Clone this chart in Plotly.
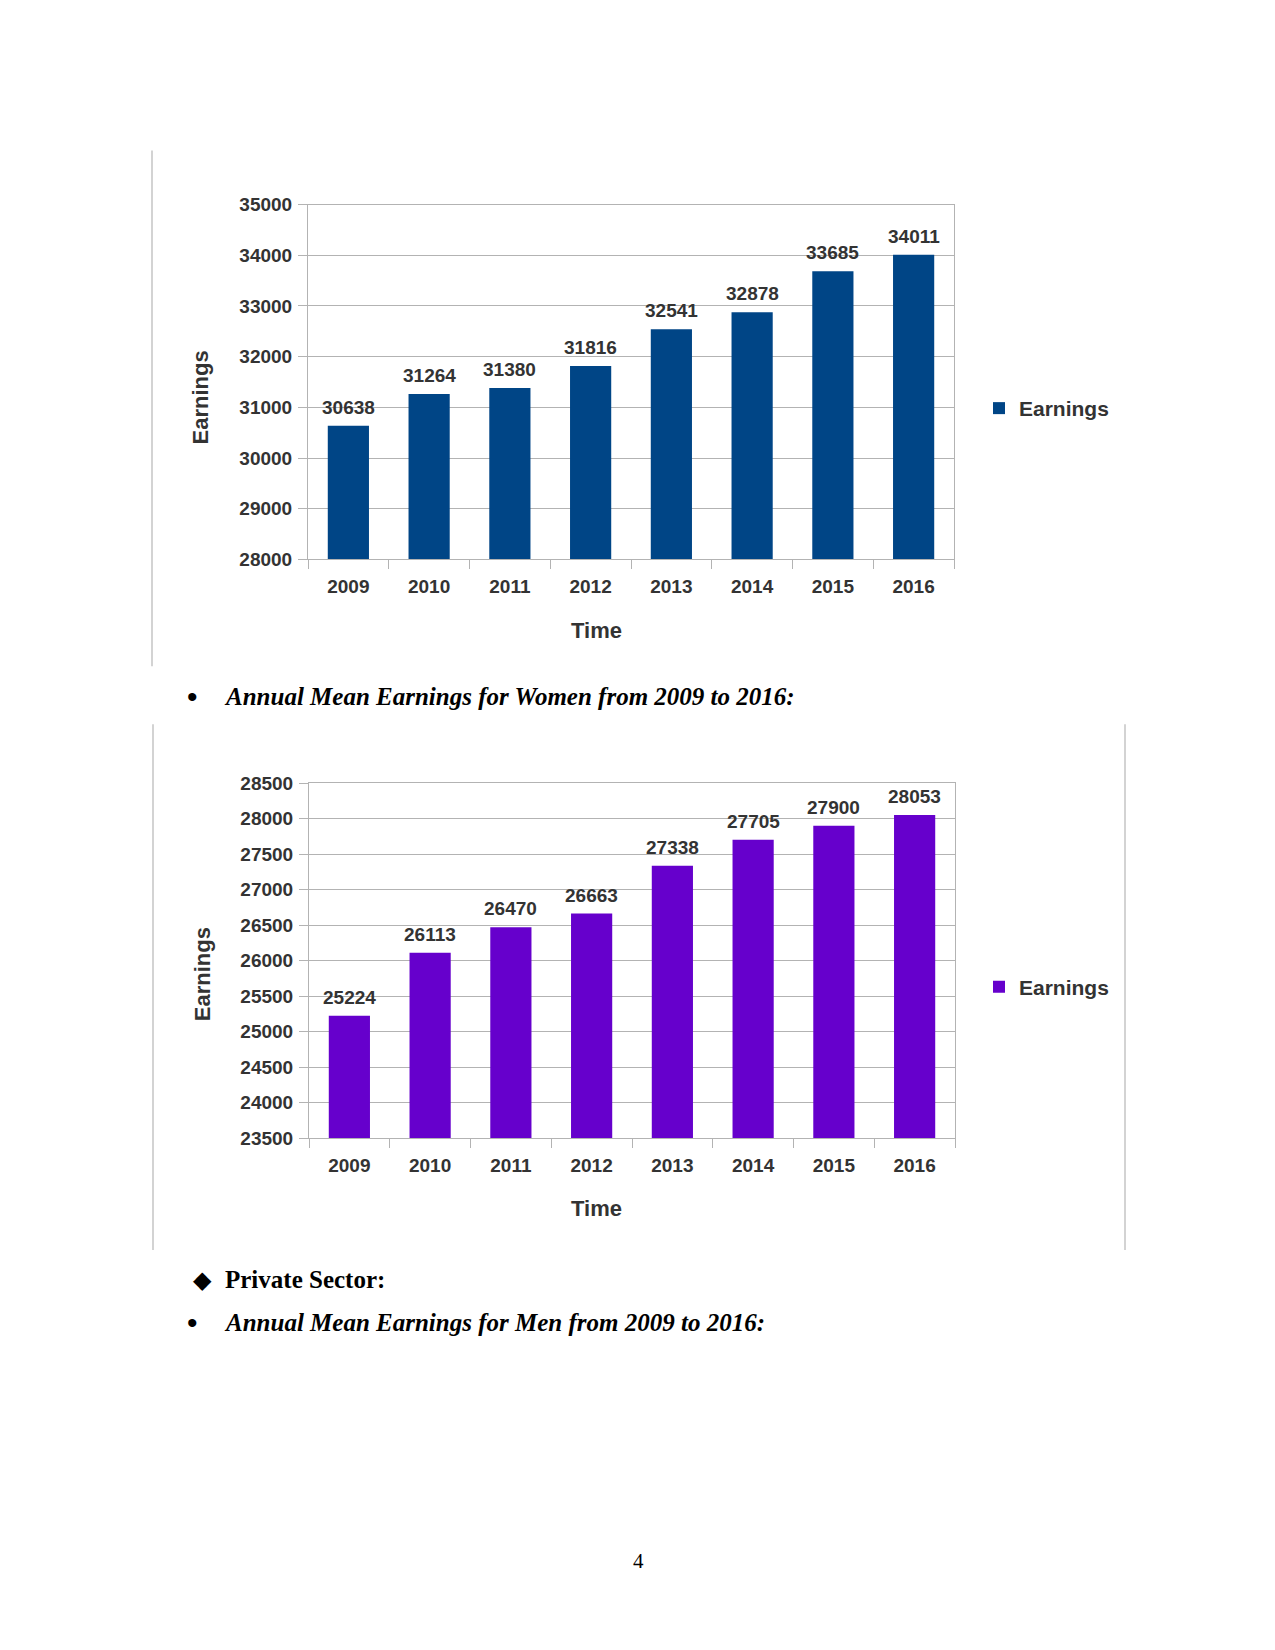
import plotly.graph_objects as go

# ---- data ----
years = ["2009", "2010", "2011", "2012", "2013", "2014", "2015", "2016"]
earnings_women = [30638, 31264, 31380, 31816, 32541, 32878, 33685, 34011]
earnings_men = [25224, 26113, 26470, 26663, 27338, 27705, 27900, 28053]
y1_range = [28000, 35000]
y1_step = 1000
y2_range = [23500, 28500]
y2_step = 500
series_name = "Earnings"
x_title = "Time"
y_title = "Earnings"
heading_1 = "Annual Mean Earnings for Women from 2009 to 2016:"
heading_2 = "Private Sector:"
heading_3 = "Annual Mean Earnings for Men from 2009 to 2016:"
page_number = "4"

# page -> figure coordinate helpers (page has an 8px body margin)
OX, OY = 8, 8
FW, FH = 1275 - 16, 1650 - 30
VY0, VYS = 9.4, 0.9876   # observed vertical mapping of the photographed page
def fx(x):
    return (x - OX) / FW
def fy(y):
    yp = (y - VY0) / VYS
    return 1 - (yp - OY) / FH

TXT = "#333333"
GRID = "#b3b3b3"
SANS = "Liberation Sans"
SERIF = "Liberation Serif"

fig = go.Figure()
fig.add_trace(go.Bar(
    x=years, y=earnings_women, name=series_name, xaxis="x", yaxis="y",
    marker=dict(color="#004586", line=dict(width=0)),
    legend="legend", hoverinfo="skip"))
fig.add_trace(go.Bar(
    x=years, y=earnings_men, name=series_name, xaxis="x2", yaxis="y2",
    marker=dict(color="#6600cc", line=dict(width=0)),
    legend="legend2", hoverinfo="skip"))

def xax(domain, anchor):
    return dict(domain=domain, anchor=anchor, type="category",
                categoryorder="array", categoryarray=years,
                range=[-0.5, len(years) - 0.5],
                showline=True, linecolor=GRID, linewidth=1, mirror=True,
                ticks="outside", tickson="boundaries", ticklen=9, tickcolor=GRID,
                tickfont=dict(family=SANS, size=19, color=TXT, weight="bold"),
                tickangle=0,
                ticklabelstandoff=10, showgrid=False, fixedrange=True)

def yax(domain, anchor, rng, step):
    return dict(domain=domain, anchor=anchor, range=rng, dtick=step, tick0=rng[0],
                tickformat="d",
                showline=True, linecolor=GRID, linewidth=1, mirror=True,
                ticks="outside", ticklen=9, tickcolor=GRID,
                showgrid=True, gridcolor=GRID, gridwidth=1, zeroline=False,
                tickfont=dict(family=SANS, size=19, color=TXT, weight="bold"),
                ticklabelstandoff=2, fixedrange=True)

label_font = dict(family=SANS, size=19, color=TXT, weight="bold")
annotations = []
# value labels above each bar, placed through the axes' data scales
# (category axes take the category's serial number as annotation x)
for xref, yref, vals in (("x", "y", earnings_women), ("x2", "y2", earnings_men)):
    for i, v in enumerate(vals):
        annotations.append(dict(x=i, y=v, xref=xref, yref=yref, text=str(v),
                                showarrow=False, xanchor="center", yanchor="bottom",
                                yshift=6, font=label_font))

titles = [
    dict(text=x_title, x=fx(596), y=fy(630)),
    dict(text=y_title, x=fx(200), y=fy(397), textangle=-90),
    dict(text=x_title, x=fx(596), y=fy(1208)),
    dict(text=y_title, x=fx(202), y=fy(974), textangle=-90),
]
for a in titles:
    a.update(xref="paper", yref="paper", showarrow=False, xanchor="center", yanchor="middle",
             font=dict(family=SANS, size=22, color=TXT, weight="bold"))

doc_font = dict(family=SERIF, size=25, color="#000000")
bullet_font = dict(family=SANS, size=30, color="#000000")
doc = [
    dict(text="•", x=fx(192), y=fy(696), xanchor="center", font=bullet_font),
    dict(text="<b><i>" + heading_1 + "</i></b>", x=fx(222), y=fy(696), xanchor="left", font=doc_font),
    dict(text="◆", x=fx(202), y=fy(1280), xanchor="center",
         font=dict(family="DejaVu Sans", size=24, color="#000000")),
    dict(text="<b>" + heading_2 + "</b>", x=fx(223), y=fy(1280), xanchor="left", font=doc_font),
    dict(text="•", x=fx(192), y=fy(1323), xanchor="center", font=bullet_font),
    dict(text="<b><i>" + heading_3 + "</i></b>", x=fx(222), y=fy(1323), xanchor="left", font=doc_font),
    dict(text=page_number, x=fx(638), y=fy(1561), xanchor="center",
         font=dict(family=SERIF, size=21, color="#000000")),
]
for a in doc:
    a.update(xref="paper", yref="paper", showarrow=False, yanchor="middle")
annotations += titles + doc

line_style = dict(color="#c4c4c4", width=1.5)
shapes = [
    dict(type="line", xref="paper", yref="paper", x0=fx(152), x1=fx(152), y0=fy(150), y1=fy(666), line=line_style),
    dict(type="line", xref="paper", yref="paper", x0=fx(153), x1=fx(153), y0=fy(724), y1=fy(1250), line=line_style),
    dict(type="line", xref="paper", yref="paper", x0=fx(1125), x1=fx(1125), y0=fy(724), y1=fy(1250), line=line_style),
]

legend_common = dict(xanchor="left", yanchor="middle", bgcolor="rgba(0,0,0,0)",
                     font=dict(family=SANS, size=21, color=TXT, weight="bold"),
                     itemwidth=30, borderwidth=0)

fig.update_layout(
    width=FW, height=FH, margin=dict(l=0, r=0, t=0, b=0),
    paper_bgcolor="white", plot_bgcolor="white",
    bargap=0.49, showlegend=True,
    xaxis=xax([fx(308), fx(954)], "y"),
    yaxis=yax([fy(559), fy(204)], "x", y1_range, y1_step),
    xaxis2=xax([fx(309), fx(955)], "y2"),
    yaxis2=yax([fy(1138), fy(783)], "x2", y2_range, y2_step),
    legend=dict(x=fx(979), y=fy(408), **legend_common),
    legend2=dict(x=fx(979), y=fy(987), **legend_common),
    annotations=annotations, shapes=shapes,
)

fig.write_html("out.html")
